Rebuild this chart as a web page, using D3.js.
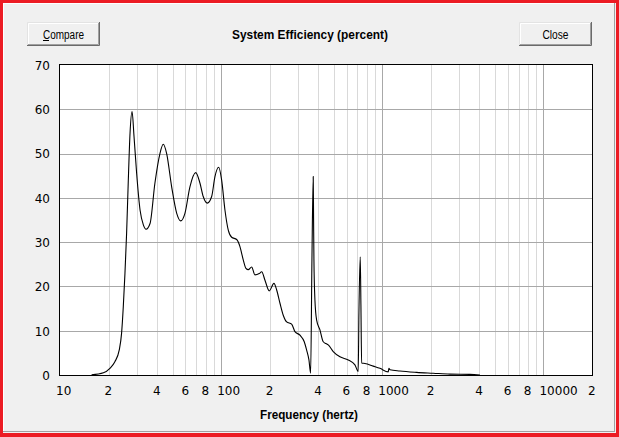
<!DOCTYPE html>
<html>
<head>
<meta charset="utf-8">
<script src="https://cdn.jsdelivr.net/npm/d3@7"></script>
<style>
  html, body { margin: 0; padding: 0; background: #f0f0f0; }
  svg { display: block; }
</style>
</head>
<body>
<script>
// ---- data ----
const frequency = [15.7, 18.6, 20.4, 21.9, 23.3, 24.1, 24.7, 25.3, 25.9, 26.5, 27.2, 28.0, 28.8, 29.9, 31.4, 32.9, 34.2, 36.2, 38.8, 41.7,
  43.7, 45.9, 49.3, 53.0, 56.1, 59.6, 64.0, 69.5, 73.9, 77.4, 82.0, 87.3, 91.5, 96.5, 100.7, 105.6, 110.7, 116.2, 124.8, 130.8,
  137.1, 142.5, 147.3, 154.6, 162.0, 172.3, 178.4, 187.0, 198.8, 212.6, 221.0, 231.7, 242.8, 254.9, 273.7, 287.0, 308.2, 327.8, 339.2, 350.5,
  359.1, 365.8, 372.6, 374.5, 376.4, 381.8, 391.2, 410.1, 429.9, 446.8, 461.7, 495.9, 545.8, 614.5, 676.1, 708.7, 715.8, 729.4, 736.6, 744.1,
  780, 878, 966, 1088, 1099, 1115, 1286, 1633, 2069, 2627, 3495, 4033];
const efficiency = [0.05, 0.5, 1.5, 3.0, 5.6, 9.4, 15.4, 23, 32, 43.3, 54.6, 59.5, 53.8, 45.5, 37.2, 33.9, 32.9, 34.2, 43.3, 50,
  52.1, 50, 42.5, 36.5, 34.8, 36.5, 42.5, 45.7, 43.3, 40.3, 38.8, 40.3, 44.8, 46.9, 44, 37.2, 32.7, 31.1, 30.6, 29,
  26, 24.1, 23.8, 24.4, 22.6, 22.9, 23.3, 21.4, 19.0, 20.7, 19.2, 16.2, 13.5, 12.0, 11.5, 9.8, 9.0, 7.5, 5.6, 3.4,
  0.4, 26, 44.8, 35, 26, 16.9, 12.4, 10.2, 7.5, 7.1, 6.8, 5.3, 4.1, 3.4, 2.3, 0.8, 14, 26.7, 15.8, 2.7,
  2.6, 2.0, 1.5, 0.7, 1.5, 1.2, 0.9, 0.6, 0.4, 0.2, 0.15, 0.0];

const xTickValues = [10, 20, 40, 60, 80, 100, 200, 400, 600, 800, 1000, 2000, 4000, 6000, 8000, 10000, 20000];
const xTickLabels = ["10", "2", "4", "6", "8", "100", "2", "4", "6", "8", "1000", "2", "4", "6", "8", "10000", "2"];
const xMinorGrid = [20, 30, 40, 50, 60, 70, 80, 90, 200, 300, 400, 500, 600, 700, 800, 900, 2000, 3000, 4000, 5000, 6000, 7000, 8000, 9000];
const xMajorGrid = [100, 1000, 10000];
const yTickValues = [0, 10, 20, 30, 40, 50, 60, 70];
const yGrid = [10, 20, 30, 40, 50, 60];

const titleText = "System Efficiency (percent)";
const xTitleText = "Frequency (hertz)";

// ---- layout ----
const W = 619, H = 437;
const L = 60, R = 592, T = 65, B = 375;

const svg = d3.select("body").append("svg").attr("width", W).attr("height", H);

// window background & frame
svg.append("rect").attr("x", 0).attr("y", 0).attr("width", W).attr("height", H).attr("fill", "#f0f0f0");
svg.append("line").attr("x1", 3).attr("x2", 614).attr("y1", 3.5).attr("y2", 3.5).attr("stroke", "#ffffff");
svg.append("line").attr("x1", 3.5).attr("x2", 3.5).attr("y1", 3).attr("y2", 432).attr("stroke", "#ffffff");
svg.append("line").attr("x1", 614.5).attr("x2", 614.5).attr("y1", 3).attr("y2", 432).attr("stroke", "#a0a0a0");
svg.append("line").attr("x1", 3).attr("x2", 615).attr("y1", 431.5).attr("y2", 431.5).attr("stroke", "#a0a0a0");
// red border
svg.append("rect").attr("x", 1.5).attr("y", 1.5).attr("width", W - 3).attr("height", H - 3)
  .attr("fill", "none").attr("stroke", "#ec1c24").attr("stroke-width", 3);
svg.append("line").attr("x1", 0).attr("x2", W).attr("y1", 435).attr("y2", 435).attr("stroke", "#ec1c24").attr("stroke-width", 4);

// buttons
function button(x, y, w, h, label, tl) {
  const g = svg.append("g");
  g.append("rect").attr("x", x).attr("y", y).attr("width", w).attr("height", h).attr("fill", "#f0f0f0");
  g.append("path").attr("d", `M${x + 0.5},${y + h - 0.5} V${y + 0.5} H${x + w - 0.5}`).attr("fill", "none").attr("stroke", "#e3e3e3");
  g.append("path").attr("d", `M${x + 1.5},${y + h - 1.5} V${y + 1.5} H${x + w - 1.5}`).attr("fill", "none").attr("stroke", "#ffffff");
  g.append("path").attr("d", `M${x},${y + h - 0.5} H${x + w - 0.5} V${y}`).attr("fill", "none").attr("stroke", "#6a6a6a");
  g.append("path").attr("d", `M${x + 1},${y + h - 1.5} H${x + w - 1.5} V${y + 1}`).attr("fill", "none").attr("stroke", "#a0a0a0");
  g.append("text").attr("x", x + w / 2).attr("y", y + 16.5).attr("text-anchor", "middle")
    .attr("font-family", "'Liberation Sans', Arial, sans-serif").attr("font-size", 12).attr("fill", "#000")
    .attr("textLength", tl).attr("lengthAdjust", "spacingAndGlyphs").text(label);
}
button(27, 22, 73, 24, "Compare", 41);
svg.append("line").attr("x1", 43).attr("x2", 49).attr("y1", 40.5).attr("y2", 40.5).attr("stroke", "#000");
button(519, 22, 73, 24, "Close", 26);

// title
svg.append("text").attr("x", 310).attr("y", 39).attr("text-anchor", "middle")
  .attr("font-family", "'Liberation Sans', Arial, sans-serif").attr("font-weight", "bold").attr("font-size", 13)
  .attr("textLength", 156).attr("lengthAdjust", "spacingAndGlyphs").text(titleText);

// scales
const x = d3.scaleLog().domain([10, 20000]).range([L, R]);
const y = d3.scaleLinear().domain([0, 70]).range([B, T]);

// plot area
svg.append("rect").attr("x", L).attr("y", T).attr("width", R - L).attr("height", B - T).attr("fill", "#ffffff");

const grid = svg.append("g").attr("shape-rendering", "crispEdges");
grid.selectAll(".vmin").data(xMinorGrid).enter().append("line")
  .attr("x1", d => Math.round(x(d)) + 0.5).attr("x2", d => Math.round(x(d)) + 0.5)
  .attr("y1", T).attr("y2", B).attr("stroke", "#d9d9d9");
grid.selectAll(".vmaj").data(xMajorGrid).enter().append("line")
  .attr("x1", d => Math.round(x(d)) + 0.5).attr("x2", d => Math.round(x(d)) + 0.5)
  .attr("y1", T).attr("y2", B).attr("stroke", "#a8a8a8");
grid.selectAll(".h").data(yGrid).enter().append("line")
  .attr("x1", L).attr("x2", R)
  .attr("y1", d => Math.round(y(d)) + 0.5).attr("y2", d => Math.round(y(d)) + 0.5).attr("stroke", "#a8a8a8");

// curve
const pts = frequency.map((f, i) => [f, efficiency[i]]);
const line = d3.line().x(d => x(d[0])).y(d => y(d[1])).curve(d3.curveMonotoneX);
svg.append("path").datum(pts).attr("d", line).attr("fill", "none").attr("stroke", "#000").attr("stroke-width", 1.1);

// plot border
svg.append("rect").attr("x", L - 0.5).attr("y", T - 0.5).attr("width", R - L + 1).attr("height", B - T + 1)
  .attr("fill", "none").attr("stroke", "#000").attr("shape-rendering", "crispEdges");

// axes
const xAxis = d3.axisBottom(x).tickValues(xTickValues).tickFormat((d, i) => xTickLabels[i]).tickSize(0).tickPadding(0);
const gx = svg.append("g").attr("transform", `translate(0,${B})`).call(xAxis);
gx.select(".domain").remove();
gx.selectAll("text").attr("text-anchor", "start").attr("dx", -4.5).attr("y", 20).attr("dy", 0)
  .attr("font-family", "'DejaVu Sans', Verdana, sans-serif").attr("font-size", 12).attr("fill", "#000");

const yAxis = d3.axisLeft(y).tickValues(yTickValues).tickFormat(d3.format("d")).tickSize(0).tickPadding(0);
const gy = svg.append("g").attr("transform", `translate(${L - 10},0)`).call(yAxis);
gy.select(".domain").remove();
gy.selectAll("text").attr("dy", "0.36em").attr("x", 0)
  .attr("font-family", "'DejaVu Sans', Verdana, sans-serif").attr("font-size", 12).attr("fill", "#000");

// x title
svg.append("text").attr("x", 309).attr("y", 419).attr("text-anchor", "middle")
  .attr("font-family", "'Liberation Sans', Arial, sans-serif").attr("font-weight", "bold").attr("font-size", 13)
  .attr("textLength", 98).attr("lengthAdjust", "spacingAndGlyphs").text(xTitleText);
</script>
</body>
</html>
